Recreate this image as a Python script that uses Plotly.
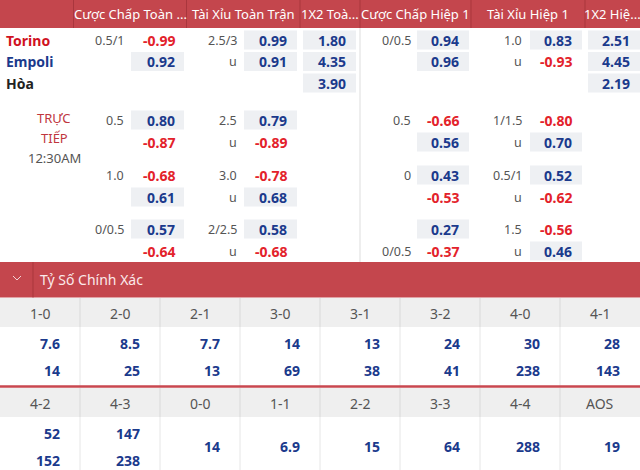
import plotly.graph_objects as go

# ---- data ----
headers = ["Cược Chấp Toàn ...", "Tài Xỉu Toàn Trận", "1X2 Toà...",
           "Cược Chấp Hiệp 1", "Tài Xỉu Hiệp 1", "1X2 Hiệ..."]
teams = ["Torino", "Empoli", "Hòa"]

# pre-match odds (home / away rows)
ft_hdp_line = ["0.5/1", ""]
ft_hdp = [-0.99, 0.92]
ft_ou_line = ["2.5/3", "u"]
ft_ou = [0.99, 0.91]
ft_1x2 = [1.80, 4.35, 3.90]
h1_hdp_line = ["0/0.5", ""]
h1_hdp = [0.94, 0.96]
h1_ou_line = ["1.0", "u"]
h1_ou = [0.83, -0.93]
h1_1x2 = [2.51, 4.45, 2.19]

# live odds, three blocks of two rows
live_label = ["TRỰC", "TIẾP", "12:30AM"]
live_ft_hdp_line = ["0.5", "", "1.0", "", "0/0.5", ""]
live_ft_hdp = [0.80, -0.87, -0.68, 0.61, 0.57, -0.64]
live_ft_ou_line = ["2.5", "u", "3.0", "u", "2/2.5", "u"]
live_ft_ou = [0.79, -0.89, -0.78, 0.68, 0.58, -0.68]
live_h1_hdp_line = ["0.5", "", "0", "", "", "0/0.5"]
live_h1_hdp = [-0.66, 0.56, 0.43, -0.53, 0.27, -0.37]
live_h1_ou_line = ["1/1.5", "u", "0.5/1", "u", "1.5", "u"]
live_h1_ou = [-0.80, 0.70, 0.52, -0.62, -0.56, 0.46]

# correct score
cs_title = "Tỷ Số Chính Xác"
scores_1 = ["1-0", "2-0", "2-1", "3-0", "3-1", "3-2", "4-0", "4-1"]
home_1 = [7.6, 8.5, 7.7, 14, 13, 24, 30, 28]
away_1 = [14, 25, 13, 69, 38, 41, 238, 143]
scores_2 = ["4-2", "4-3", "0-0", "1-1", "2-2", "3-3", "4-4", "AOS"]
home_2 = [52, 147, 14, 6.9, 15, 64, 288, 19]
away_2 = [152, 238, None, None, None, None, None, None]

# ---- style ----
RED_BG = "#c4464d"
RED_DARK = "#a9363d"
BLUE = "#1b3a8c"
RED = "#e3222b"
GRAY_TXT = "#555555"
BOX = "#eef0f3"
FONT = "Noto Sans"

W, H = 640, 470
fig = go.Figure()
shapes = []
ann = []


def rect(x0, y0, x1, y1, color, line=None):
    shapes.append(dict(type="rect", x0=x0, y0=y0, x1=x1, y1=y1, fillcolor=color,
                       line=dict(width=0) if line is None else line, layer="below"))


def vline(x, y0, y1, color, width=1):
    shapes.append(dict(type="line", x0=x, x1=x, y0=y0, y1=y1,
                       line=dict(color=color, width=width)))


def txt(x, y, s, color, size=13, bold=False, anchor="center"):
    if bold:
        s = "<b>" + s + "</b>"
    ann.append(dict(x=x, y=y, text=s, showarrow=False, xanchor=anchor, yanchor="middle",
                    font=dict(family=FONT, size=size, color=color), borderpad=0))


def odds_cell(val, y, box_l, box_r, val_r):
    if val is None:
        return
    if val >= 0:
        rect(box_l, y - 9.5, box_r, y + 9.5, BOX)
    txt(val_r, y, "%.2f" % val, BLUE if val >= 0 else RED, 14, True, "right")


# header bar
rect(0, 0, W, 28, RED_BG)
seps = [73.5, 186.5, 300, 360, 471, 585, W]
for i, h in enumerate(headers):
    vline(seps[i], 0, 28, RED_DARK)
    txt((seps[i] + seps[i + 1]) / 2, 14, h, "white", 13)
vline(360, 28, 262, "#dddddd")

# column geometry: (label_right, box_left, box_right, value_right)
groups = [(125, 131, 184, 176), (238, 244, 297, 288), (None, 303, 356, 347),
          (412, 417, 469, 460), (523, 530, 582, 573), (None, 588, 641, 631)]

pre_y = [40, 61.5, 83]
team_col = ["#d0121f", BLUE, "#222222"]
for i, t in enumerate(teams):
    txt(5, pre_y[i], t, team_col[i], 14, True, "left")

pre_lines = [ft_hdp_line, ft_ou_line, None, h1_hdp_line, h1_ou_line, None]
pre_vals = [ft_hdp, ft_ou, ft_1x2, h1_hdp, h1_ou, h1_1x2]
for g, (lines, vals) in enumerate(zip(pre_lines, pre_vals)):
    lr, bl, br, vr = groups[g]
    for r, v in enumerate(vals):
        if lines is not None and lines[r]:
            txt(lr, pre_y[r], lines[r], GRAY_TXT, 12.5, False, "right")
        odds_cell(v, pre_y[r], bl, br, vr)

# live section
live_y = [120, 142, 175, 197, 229, 251]
for i, s in enumerate(live_label):
    txt(54, 118 + 20 * i, s, "#c0363e" if i < 2 else GRAY_TXT, 13)

live_lines = [live_ft_hdp_line, live_ft_ou_line, live_h1_hdp_line, live_h1_ou_line]
live_vals = [live_ft_hdp, live_ft_ou, live_h1_hdp, live_h1_ou]
for g, lines, vals in zip([0, 1, 3, 4], live_lines, live_vals):
    lr, bl, br, vr = groups[g]
    for r, v in enumerate(vals):
        if lines[r]:
            txt(lr, live_y[r], lines[r], GRAY_TXT, 12.5, False, "right")
        odds_cell(v, live_y[r], bl, br, vr)

# correct score band
rect(0, 262, W, 297.5, RED_BG)
vline(33, 262, 297.5, RED_DARK)
shapes.append(dict(type="path", path="M 13 276 L 17 280 L 21 276",
                   line=dict(color="#f3d3d5", width=1)))
txt(39, 279, cs_title, "#fbe9ea", 14, False, "left")


def score_block(labels, top, bot, y_head, y_vals):
    rect(0, y_head, W, y_head + 29, "#efefef")
    for c, lab in enumerate(labels):
        x0 = c * 80
        if c:
            vline(x0, y_head, y_head + 29, "#d9d9d9")
            vline(x0, y_head + 29, y_vals + 59, "#e6e6e6")
        txt(x0 + 40, y_head + 15, lab, GRAY_TXT, 14)
        if bot[c] is None:
            txt(x0 + 61, y_vals + 29, "%g" % top[c], BLUE, 14, True, "right")
        else:
            txt(x0 + 61, y_vals + 16, "%g" % top[c], BLUE, 14, True, "right")
            txt(x0 + 61, y_vals + 43, "%g" % bot[c], BLUE, 14, True, "right")


score_block(scores_1, home_1, away_1, 298, 327)
shapes.append(dict(type="line", x0=0, x1=W, y0=386.5, y1=386.5,
                   line=dict(color="#c9474f", width=2.5)))
score_block(scores_2, home_2, away_2, 388, 417)

fig.update_layout(
    width=W, height=H, margin=dict(l=0, r=0, t=0, b=0),
    paper_bgcolor="white", plot_bgcolor="white",
    xaxis=dict(range=[0, W], visible=False, fixedrange=True),
    yaxis=dict(range=[H, 0], visible=False, fixedrange=True),
    shapes=shapes, annotations=ann, showlegend=False,
)
fig.write_html("out.html", config={"displayModeBar": False},
               post_script="document.body.style.margin='0';document.body.style.overflow='hidden';")
